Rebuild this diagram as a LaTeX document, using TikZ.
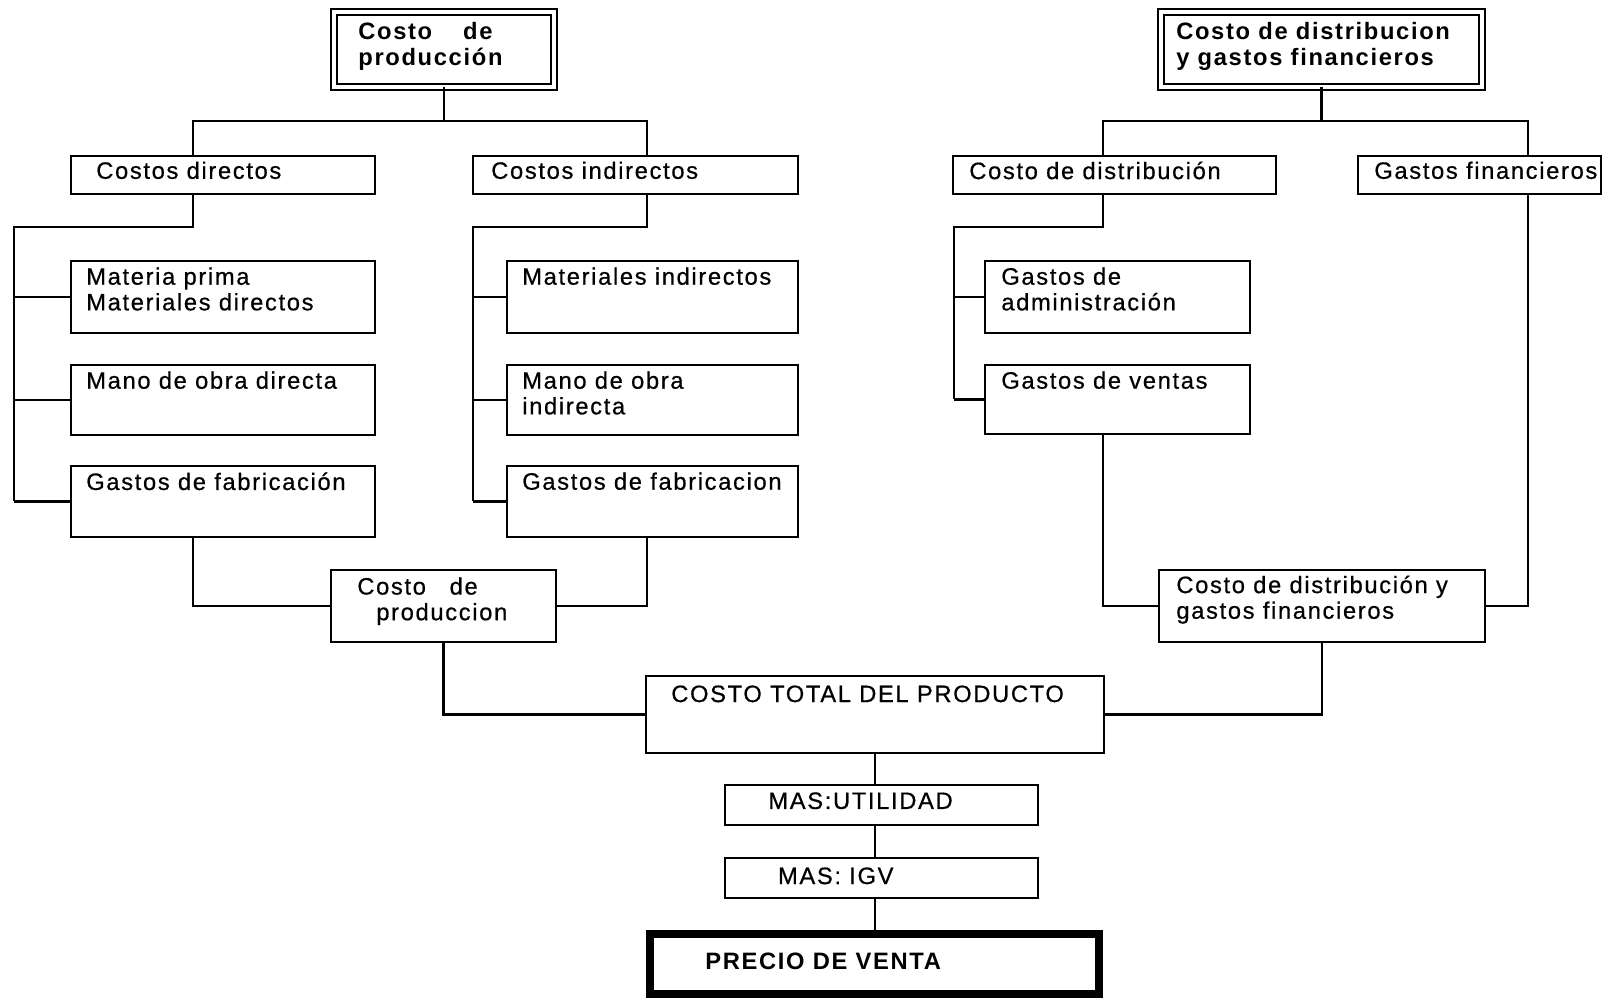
\documentclass[tikz,border=0pt]{standalone}
\usepackage{fontspec}
\setmainfont{Liberation Sans}[LetterSpace=7,FakeBold=0.6,BoldFeatures={FakeBold=0}]
\usetikzlibrary{fit}
\tikzset{>=latex}
\tikzstyle{box}=[draw,line width=1.5pt,inner sep=0,outer sep=0]
\tikzstyle{box double}=[box,line width=1.3pt,double,double distance=2pt]
\tikzstyle{box thick}=[box,line width=4.5pt]
\tikzstyle{lbl}=[anchor=north west,align=left,inner xsep=8.5pt,inner ysep=3.5pt,font=\fontsize{13.5}{14.6}\selectfont]
\tikzstyle{connect}=[line width=1.5pt]

\begin{document}
\begin{tikzpicture}[x=0.02cm,y=-0.02cm]
    \useasboundingbox (0,0) rectangle (1606,999);

    % DRAW NODES
    % top boxes
    \node[box double,fit={(334,12) (554,87)},
          label={[lbl,inner xsep=13.7pt,inner ysep=5.8pt,font=\fontsize{13.5}{14.6}\selectfont\bfseries]north west:{Costo\hspace{1.3em}de\\producción}}] (pc) {};
    \node[box double,fit={(1161,12) (1482,87)},
          label={[lbl,inner ysep=5.8pt,font=\fontsize{13.5}{14.6}\selectfont\bfseries]north west:{Costo de distribucion\\y gastos financieros}}] (pd) {};

    % second level
    \node[box,fit={(71,156) (375,194)},label={[lbl,inner xsep=14.2pt,inner ysep=3pt]north west:{Costos directos}}] (cd) {};
    \node[box,fit={(473,156) (798,194)},label={[lbl,inner xsep=10.2pt,inner ysep=3pt]north west:{Costos indirectos}}] (ci) {};
    \node[box,fit={(953,156) (1276,194)},label={[lbl,inner xsep=9.1pt,inner ysep=3pt]north west:{Costo de distribución}}] (cdist) {};
    \node[box,fit={(1358,156) (1601,194)},label={[lbl,inner xsep=9.1pt,inner ysep=3pt]north west:{Gastos financieros}}] (gf) {};

    % leaf boxes
    \foreach \k/\ya/\yb/\txt in {1/261/333/{Materia prima\\Materiales directos},
                                 2/365/435/{Mano de obra directa},
                                 3/466/537/{Gastos de fabricación}}{
        \node[box,fit={(71,\ya) (375,\yb)},label={[lbl]north west:{\txt}}] (d\k) {};
    }
    \foreach \k/\ya/\yb/\txt in {1/261/333/{Materiales indirectos},
                                 2/365/435/{Mano de obra\\indirecta},
                                 3/466/537/{Gastos de fabricacion}}{
        \node[box,fit={(507,\ya) (798,\yb)},label={[lbl]north west:{\txt}}] (i\k) {};
    }
    \node[box,fit={(985,261) (1250,333)},label={[lbl,inner xsep=9.1pt]north west:{Gastos de\\administración}}] (ga) {};
    \node[box,fit={(985,365) (1250,434)},label={[lbl,inner xsep=9.1pt]north west:{Gastos de ventas}}] (gv) {};

    % totals
    \node[box,fit={(331,570) (556,642)},label={[lbl,inner xsep=14.8pt,inner ysep=4pt]north west:{Costo\hspace{1em}de\\\hspace{0.8em}produccion}}] (cp) {};
    \node[box,fit={(1159,570) (1485,642)},label={[lbl,inner xsep=9.7pt,inner ysep=3pt]north west:{Costo de distribución y\\gastos financieros}}] (cdg) {};
    \node[box,fit={(646,676) (1104,753)},label={[lbl,inner xsep=14.2pt,inner ysep=5.2pt]north west:{COSTO TOTAL DEL PRODUCTO}}] (ct) {};
    \node[box,fit={(725,785) (1038,825)},label={[lbl,inner xsep=24.5pt,inner ysep=4pt]north west:{MAS:UTILIDAD}}] (mu) {};
    \node[box,fit={(725,858) (1038,898)},label={[lbl,inner xsep=30pt,inner ysep=5.2pt]north west:{MAS: IGV}}] (mi) {};
    \node[box thick,fit={(650,934) (1099,994)},
          label={[lbl,inner xsep=31.3pt,inner ysep=10.3pt,font=\fontsize{13.5}{14.6}\selectfont\bfseries]north west:{PRECIO DE VENTA}}] (pv) {};

    % DRAW EDGES
    % costo de produccion
    \draw[connect] (pc.south) -- ++(0,34) coordinate (t1);
    \draw[connect] (cd.north -| 193,0) |- (t1) -| (ci.north -| 647,0);
    \coordinate (dl) at (14,227);
    \coordinate (il) at (473,227);
    \draw[connect] (cd.south -| 193,0) |- (dl) -- (dl |- d3.west);
    \draw[connect] (ci.south -| 647,0) |- (il) -- (il |- i3.west);
    \foreach \k in {1,2,3}{
        \draw[connect] (d\k.west) -- (d\k.west -| dl);
        \draw[connect] (i\k.west) -- (i\k.west -| il);
    }
    \draw[connect] (d3.south -| 193,0) |- (cp.west);
    \draw[connect] (i3.south -| 647,0) |- (cp.east);
    \draw[connect] (cp.south) |- (ct.west);

    % costo de distribucion y gastos financieros
    \draw[connect] (pd.south) -- ++(0,34) coordinate (t2);
    \draw[connect] (cdist.north -| 1103,0) |- (t2) -| (gf.north -| 1528,0);
    \coordinate (rl) at (954,227);
    \draw[connect] (cdist.south -| 1103,0) |- (rl) -- (rl |- gv.west);
    \draw[connect] (ga.west) -- (ga.west -| rl);
    \draw[connect] (gv.west) -- (gv.west -| rl);
    \draw[connect] (gv.south -| 1103,0) |- (cdg.west);
    \draw[connect] (gf.south -| 1528,0) |- (cdg.east);
    \draw[connect] (cdg.south) |- (ct.east);

    % precio de venta
    \draw[connect] (ct.south) -- (ct.south |- mu.north);
    \draw[connect] (mu.south -| ct.south) -- (ct.south |- mi.north);
    \draw[connect] (mi.south -| ct.south) -- (ct.south |- pv.north);
\end{tikzpicture}
\end{document}
